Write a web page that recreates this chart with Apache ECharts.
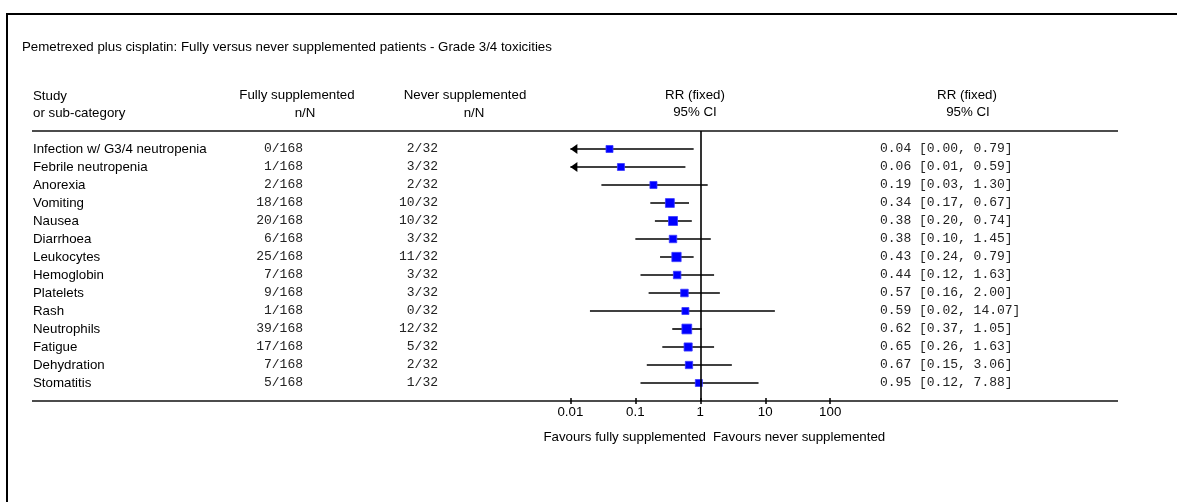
<!DOCTYPE html>
<html>
<head>
<meta charset="utf-8">
<script src="https://cdn.jsdelivr.net/npm/echarts@6/dist/echarts.min.js"></script>
<style>
html,body{margin:0;padding:0;background:#fff;}
#chart{width:1177px;height:502px;}
</style>
</head>
<body>
<div id="chart"></div>
<script>
const studies = ['Infection w/ G3/4 neutropenia','Febrile neutropenia','Anorexia','Vomiting','Nausea','Diarrhoea','Leukocytes','Hemoglobin','Platelets','Rash','Neutrophils','Fatigue','Dehydration','Stomatitis'];
const fullyEvents = [0,1,2,18,20,6,25,7,9,1,39,17,7,5];
const fullyTotal = 168;
const neverEvents = [2,3,2,10,10,3,11,3,3,0,12,5,2,1];
const neverTotal = 32;
const rr = [0.04,0.06,0.19,0.34,0.38,0.38,0.43,0.44,0.57,0.59,0.62,0.65,0.67,0.95];
const ciLow = [0.00,0.01,0.03,0.17,0.20,0.10,0.24,0.12,0.16,0.02,0.37,0.26,0.15,0.12];
const ciHigh = [0.79,0.59,1.30,0.67,0.74,1.45,0.79,1.63,2.00,14.07,1.05,1.63,3.06,7.88];
const xTicks = [0.01,0.1,1,10,100];
const xTickLabels = ['0.01','0.1','1','10','100'];
const title = 'Pemetrexed plus cisplatin: Fully versus never supplemented patients - Grade 3/4 toxicities';
const favoursLeft = 'Favours fully supplemented';
const favoursRight = 'Favours never supplemented';

const SANS = '"Liberation Sans", Arial, sans-serif';
const MONO = '"Liberation Mono", "Courier New", monospace';
const FS = 13.3;
const AXMIN = xTicks[0], AXMAX = xTicks[xTicks.length-1];

const chart = echarts.init(document.getElementById('chart'), null, {renderer:'canvas'});

const data = studies.map((s,i)=>[rr[i], i, ciLow[i], ciHigh[i]]);

function renderItem(params, api){
  const i = api.value(1);
  const r = api.value(0), lo = api.value(2), hi = api.value(3);
  const y = api.coord([1, i])[1];
  const clipped = lo <= AXMIN;
  const xlo = api.coord([Math.max(lo, AXMIN), i])[0];
  const xhi = api.coord([Math.min(hi, AXMAX), i])[0];
  const xr = api.coord([r, i])[0];
  const se = (Math.log(hi) - Math.log(Math.max(lo, 0.005))) / 3.92;
  const size = Math.max(7, Math.min(10, 6 + 1/se));
  const children = [];
  children.push({type:'line', shape:{x1:xlo, y1:y, x2:xhi, y2:y}, style:{stroke:'#000', lineWidth:1.6}});
  if (clipped) {
    children.push({type:'polygon', shape:{points:[[xlo, y],[xlo+7, y-5],[xlo+7, y+5]]}, style:{fill:'#000'}});
  }
  children.push({type:'rect', shape:{x:xr-size/2, y:y-size/2, width:size, height:size}, style:{fill:'#0000ff', stroke:'#3a3aff', lineWidth:0.8}});
  const idx = params.dataIndex;
  children.push({type:'text', x:33, y:y, style:{text:studies[idx], font:FS+'px '+SANS, fill:'#000', textAlign:'left', textVerticalAlign:'middle'}});
  children.push({type:'text', x:303, y:y, style:{text:fullyEvents[idx]+'/'+fullyTotal, font:'13px '+MONO, fill:'#222', textAlign:'right', textVerticalAlign:'middle'}});
  children.push({type:'text', x:438, y:y, style:{text:neverEvents[idx]+'/'+neverTotal, font:'13px '+MONO, fill:'#222', textAlign:'right', textVerticalAlign:'middle'}});
  const ciText = r.toFixed(2)+' ['+lo.toFixed(2)+', '+hi.toFixed(2)+']';
  children.push({type:'text', x:880, y:y, style:{text:ciText, font:'13px '+MONO, fill:'#222', textAlign:'left', textVerticalAlign:'middle'}});
  return {type:'group', children};
}

function txt(t, x, y, align){
  return {type:'text', x:x, y:y, silent:true, style:{text:t, font:FS+'px '+SANS, fill:'#000', textAlign:align||'left', textVerticalAlign:'middle'}};
}

const gridTop = 131, gridH = 270;

const option = {
  animation:false,
  backgroundColor:'#fff',
  grid:{left:570.4, width:259.8, top:gridTop, height:gridH},
  xAxis:[{
    type:'log', logBase:10, min:AXMIN, max:AXMAX, position:'bottom',
    axisLine:{show:false, onZero:false},
    axisTick:{show:true, length:3, lineStyle:{color:'#000', width:1.5}},
    splitLine:{show:false},
    axisLabel:{show:true, margin:5, color:'#000', fontFamily:SANS, fontSize:FS,
      formatter:function(v){ const k = xTicks.findIndex(t=>Math.abs(Math.log10(t)-Math.log10(v))<1e-6); return k>=0?xTickLabels[k]:''; }}
  },{
    type:'log', logBase:10, min:AXMIN, max:AXMAX, position:'bottom',
    axisLine:{show:false, onZero:false},
    axisTick:{show:true, inside:true, length:3, lineStyle:{color:'#000', width:1.5}},
    axisLabel:{show:false}, splitLine:{show:false}
  }],
  yAxis:{type:'value', min:-1, max:14, inverse:true, show:false},
  graphic:[
    {type:'rect', shape:{x:7, y:14, width:1300, height:600}, style:{fill:'none', stroke:'#000', lineWidth:2}, silent:true},
    txt(title, 22, 47),
    txt('Study', 33, 96),
    txt('or sub-category', 33, 113),
    txt('Fully supplemented', 297, 95, 'center'),
    txt('n/N', 305, 113, 'center'),
    txt('Never supplemented', 465, 95, 'center'),
    txt('n/N', 474, 113, 'center'),
    txt('RR (fixed)', 695, 95, 'center'),
    txt('95% CI', 695, 112, 'center'),
    txt('RR (fixed)', 967, 95, 'center'),
    txt('95% CI', 968, 112, 'center'),
    {type:'line', shape:{x1:32, y1:gridTop, x2:1118, y2:gridTop}, style:{stroke:'#111', lineWidth:1.6}, silent:true},
    {type:'line', shape:{x1:32, y1:gridTop+gridH, x2:1118, y2:gridTop+gridH}, style:{stroke:'#111', lineWidth:1.6}, silent:true},
    txt(favoursLeft, 706, 437, 'right'),
    txt(favoursRight, 713, 437, 'left')
  ],
  series:[{
    type:'custom', renderItem:renderItem, clip:false, data:data,
    encode:{x:0, y:1},
    markLine:{silent:true, symbol:'none', label:{show:false}, lineStyle:{color:'#000', width:1.6, type:'solid'}, data:[{xAxis:1}]},
    z:3
  }]
};
chart.setOption(option);
</script>
</body>
</html>
